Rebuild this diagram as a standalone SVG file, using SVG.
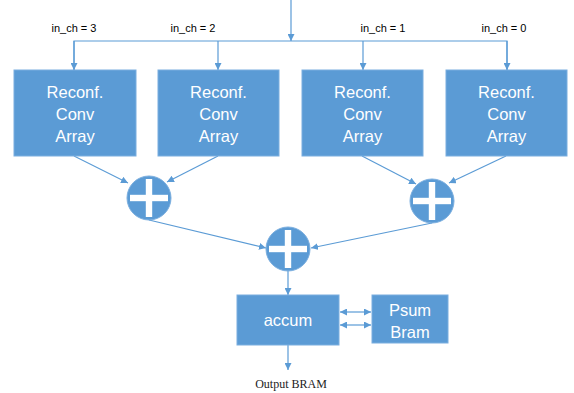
<svg xmlns="http://www.w3.org/2000/svg" width="574" height="393" viewBox="0 0 574 393">
<defs>
<marker id="ah" viewBox="0 0 10 10" refX="10" refY="5" markerWidth="7" markerHeight="7" orient="auto-start-reverse" markerUnits="userSpaceOnUse">
<path d="M0,0 L10,5 L0,10 z" fill="#5B9BD5"/>
</marker>
<g id="plus">
<circle cx="0" cy="0" r="22" fill="#5B9BD5" stroke="#7AAEDF" stroke-width="1"/>
<rect x="-19" y="-3.2" width="38" height="6.4" fill="#fff"/>
<rect x="-3.2" y="-19" width="6.4" height="38" fill="#fff"/>
</g>
</defs>
<style>
.box{fill:#5B9BD5;stroke:#7AAEDF;stroke-width:1}
.bt{font-family:"Liberation Sans",Arial,sans-serif;font-size:16.5px;fill:#fff;text-anchor:middle}
.lb{font-family:"Liberation Sans",Arial,sans-serif;font-size:11px;fill:#000;text-anchor:middle}
.ln{stroke:#5B9BD5;stroke-width:1.2;fill:none}
.ar{marker-end:url(#ah)}
.da{marker-end:url(#ah);marker-start:url(#ah)}
</style>
<rect width="574" height="393" fill="#fff"/>
<g id="connectors">
<line class="ln ar" x1="291" y1="0" x2="291" y2="41"/>
<polyline class="ln" points="74,70 74,41 507,41 507,70"/>
<line class="ln ar" x1="74" y1="41" x2="74" y2="70"/>
<line class="ln ar" x1="218" y1="41" x2="218" y2="70"/>
<line class="ln ar" x1="363" y1="41" x2="363" y2="70"/>
<line class="ln ar" x1="507" y1="41" x2="507" y2="70"/>
<line class="ln ar" x1="74" y1="156" x2="128" y2="183"/>
<line class="ln ar" x1="218" y1="156" x2="167" y2="182"/>
<line class="ln ar" x1="362" y1="156" x2="416" y2="184"/>
<line class="ln ar" x1="506" y1="156" x2="449" y2="183"/>
<line class="ln ar" x1="149" y1="220" x2="266" y2="248"/>
<line class="ln ar" x1="432" y1="223" x2="311" y2="248"/>
<line class="ln ar" x1="288" y1="271" x2="288" y2="295"/>
<line class="ln da" x1="340" y1="312" x2="371" y2="312"/>
<line class="ln da" x1="340" y1="325" x2="371" y2="325"/>
<line class="ln ar" x1="288" y1="345" x2="288" y2="370"/>
</g>
<g id="labels">
<text class="lb" x="74" y="32">in_ch = 3</text>
<text class="lb" x="193" y="32">in_ch = 2</text>
<text class="lb" x="383" y="32">in_ch = 1</text>
<text class="lb" x="504" y="32">in_ch = 0</text>
</g>
<g id="rca3">
<rect class="box" x="14" y="70" width="122" height="86"/>
<text class="bt" x="75" y="98">Reconf.</text>
<text class="bt" x="75" y="120">Conv</text>
<text class="bt" x="75" y="142">Array</text>
</g>
<g id="rca2">
<rect class="box" x="158" y="70" width="121" height="86"/>
<text class="bt" x="218.5" y="98">Reconf.</text>
<text class="bt" x="218.5" y="120">Conv</text>
<text class="bt" x="218.5" y="142">Array</text>
</g>
<g id="rca1">
<rect class="box" x="302" y="70" width="121" height="86"/>
<text class="bt" x="362.5" y="98">Reconf.</text>
<text class="bt" x="362.5" y="120">Conv</text>
<text class="bt" x="362.5" y="142">Array</text>
</g>
<g id="rca0">
<rect class="box" x="446" y="70" width="121" height="86"/>
<text class="bt" x="506.5" y="98">Reconf.</text>
<text class="bt" x="506.5" y="120">Conv</text>
<text class="bt" x="506.5" y="142">Array</text>
</g>
<g id="add_left"><use href="#plus" x="149" y="198"/></g>
<g id="add_right"><use href="#plus" x="432" y="201"/></g>
<g id="add_center"><use href="#plus" x="288" y="249"/></g>
<g id="accum">
<rect class="box" x="237" y="295" width="102" height="50"/>
<text class="bt" x="288" y="326">accum</text>
</g>
<g id="psum">
<rect class="box" x="372" y="295" width="76" height="48"/>
<text class="bt" x="410" y="316">Psum</text>
<text class="bt" x="410" y="338">Bram</text>
</g>
<g id="output">
<text x="291" y="388" font-family="'Liberation Serif','Times New Roman',serif" font-size="12px" fill="#222" text-anchor="middle">Output BRAM</text>
</g>
</svg>
